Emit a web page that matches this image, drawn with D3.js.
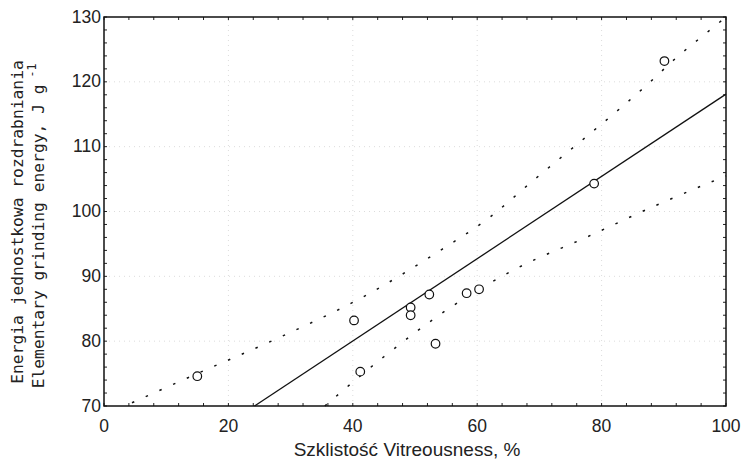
<!DOCTYPE html>
<html>
<head>
<meta charset="utf-8">
<script src="https://cdn.jsdelivr.net/npm/d3@7"></script>
<style>
  body { margin: 0; background: #fff; }
  svg { display: block; }
</style>
</head>
<body>
<div id="container"></div>
<script>
/* DATA */
const vitreousness = [15, 40.2, 41.2, 49.3, 49.3, 52.3, 53.3, 58.3, 60.3, 78.8, 90.1];
const energy = [74.6, 83.2, 75.3, 85.2, 84.0, 87.2, 79.6, 87.4, 88.0, 104.3, 123.2];

// fitted line (read at its two ends)
const fitX = [24.2, 100];
const fitY = [70, 118.1];

// prediction band
const upperX = [4.5, 15, 27.8, 41.6, 54.4, 62, 68.9, 78.5, 83.1, 87.6, 92.1, 96.8, 100];
const upperY = [70.5, 75.0, 80.4, 86.8, 94.2, 99.1, 104.7, 112.3, 116.0, 119.8, 123.8, 127.5, 130];
const lowerX = [35.5, 45, 56, 66.5, 77.5, 88.4, 100];
const lowerY = [70, 77.6, 85.4, 91.3, 96.0, 100.8, 105.5];

const xTicks = [0, 20, 40, 60, 80, 100];
const yTicks = [70, 80, 90, 100, 110, 120, 130];

/* CONSTANTS */
const width = 744, height = 463,
  margin = { top: 17, right: 18, bottom: 57, left: 104 };

const svg = d3.select("#container")
  .append("svg")
  .attr("width", width)
  .attr("height", height);

const x = d3.scaleLinear().domain([0, 100]).range([margin.left, width - margin.right]);
const y = d3.scaleLinear().domain([70, 130]).range([height - margin.bottom, margin.top]);

// faint grid
svg.append("g")
  .selectAll("line.gx")
  .data(xTicks.slice(1, -1))
  .join("line")
  .attr("x1", d => x(d)).attr("x2", d => x(d))
  .attr("y1", y(70)).attr("y2", y(130))
  .attr("stroke", "#dcdcdc").attr("stroke-dasharray", "1,4");

svg.append("g")
  .selectAll("line.gy")
  .data(yTicks.slice(1, -1))
  .join("line")
  .attr("x1", x(0)).attr("x2", x(100))
  .attr("y1", d => y(d)).attr("y2", d => y(d))
  .attr("stroke", "#dcdcdc").attr("stroke-dasharray", "1,4");

// minor ticks inside the frame
const xMinor = d3.range(0, 101, 4);
const yMinor = d3.range(70, 131, 2);

const tk = svg.append("g").attr("stroke", "#222").attr("stroke-width", 1);
tk.selectAll("line.xb").data(xMinor).join("line")
  .attr("x1", d => x(d)).attr("x2", d => x(d))
  .attr("y1", y(70)).attr("y2", y(70) - 3);
tk.selectAll("line.xt").data(xMinor).join("line")
  .attr("x1", d => x(d)).attr("x2", d => x(d))
  .attr("y1", y(130)).attr("y2", y(130) + 3);
tk.selectAll("line.yl").data(yMinor).join("line")
  .attr("x1", x(0)).attr("x2", x(0) + 3)
  .attr("y1", d => y(d)).attr("y2", d => y(d));
tk.selectAll("line.yr").data(yMinor).join("line")
  .attr("x1", x(100)).attr("x2", x(100) - 3)
  .attr("y1", d => y(d)).attr("y2", d => y(d));

// frame
svg.append("rect")
  .attr("x", x(0)).attr("y", y(130))
  .attr("width", x(100) - x(0)).attr("height", y(70) - y(130))
  .attr("fill", "none").attr("stroke", "#111").attr("stroke-width", 1.5);

// tick labels
svg.append("g")
  .attr("font-family", "Liberation Sans, Arial, sans-serif")
  .attr("font-size", 17.5).attr("fill", "#222")
  .selectAll("text").data(xTicks).join("text")
  .attr("x", d => x(d)).attr("y", y(70) + 26)
  .attr("text-anchor", "middle")
  .text(d => d);

svg.append("g")
  .attr("font-family", "Liberation Sans, Arial, sans-serif")
  .attr("font-size", 17.5).attr("fill", "#222")
  .selectAll("text").data(yTicks).join("text")
  .attr("x", x(0) - 3).attr("y", d => y(d) + 5.5)
  .attr("text-anchor", "end")
  .text(d => d);

// lines
const lineGen = d3.line().x(d => x(d[0])).y(d => y(d[1]));
const bandGen = d3.line().x(d => x(d[0])).y(d => y(d[1])).curve(d3.curveMonotoneX);

svg.append("path")
  .attr("d", lineGen(d3.zip(fitX, fitY)))
  .attr("fill", "none").attr("stroke", "#111").attr("stroke-width", 1.3);

svg.append("path")
  .attr("d", bandGen(d3.zip(upperX, upperY)))
  .attr("fill", "none").attr("stroke", "#111").attr("stroke-width", 1.5)
  .attr("stroke-dasharray", "2.5,12.5");

svg.append("path")
  .attr("d", bandGen(d3.zip(lowerX, lowerY)))
  .attr("fill", "none").attr("stroke", "#111").attr("stroke-width", 1.5)
  .attr("stroke-dasharray", "2.5,12.5");

// points
svg.append("g")
  .selectAll("circle").data(d3.zip(vitreousness, energy)).join("circle")
  .attr("cx", d => x(d[0])).attr("cy", d => y(d[1]))
  .attr("r", 4.3)
  .attr("fill", "#fff").attr("stroke", "#111").attr("stroke-width", 1.2);

// axis titles
svg.append("text")
  .attr("x", 407).attr("y", 456)
  .attr("text-anchor", "middle")
  .attr("font-family", "Liberation Sans, Arial, sans-serif")
  .attr("font-size", 19).attr("fill", "#222")
  .text("Szklistość Vitreousness, %");

const yTitle = svg.append("text")
  .attr("transform", "translate(23,222) rotate(-90)")
  .attr("text-anchor", "middle")
  .attr("font-family", "DejaVu Sans Mono, monospace")
  .attr("font-size", 16.3).attr("fill", "#222");

yTitle.append("tspan")
  .attr("x", 0).attr("dy", 0)
  .text("Energia jednostkowa rozdrabniania");

const line2 = svg.append("text")
  .attr("transform", "translate(44,226) rotate(-90)")
  .attr("text-anchor", "middle")
  .attr("font-family", "DejaVu Sans Mono, monospace")
  .attr("font-size", 16.3).attr("fill", "#222");
line2.append("tspan").text("Elementary grinding energy, J g");
line2.append("tspan").attr("dy", -8).attr("font-size", 11.5).text(" -1");
</script>
</body>
</html>
